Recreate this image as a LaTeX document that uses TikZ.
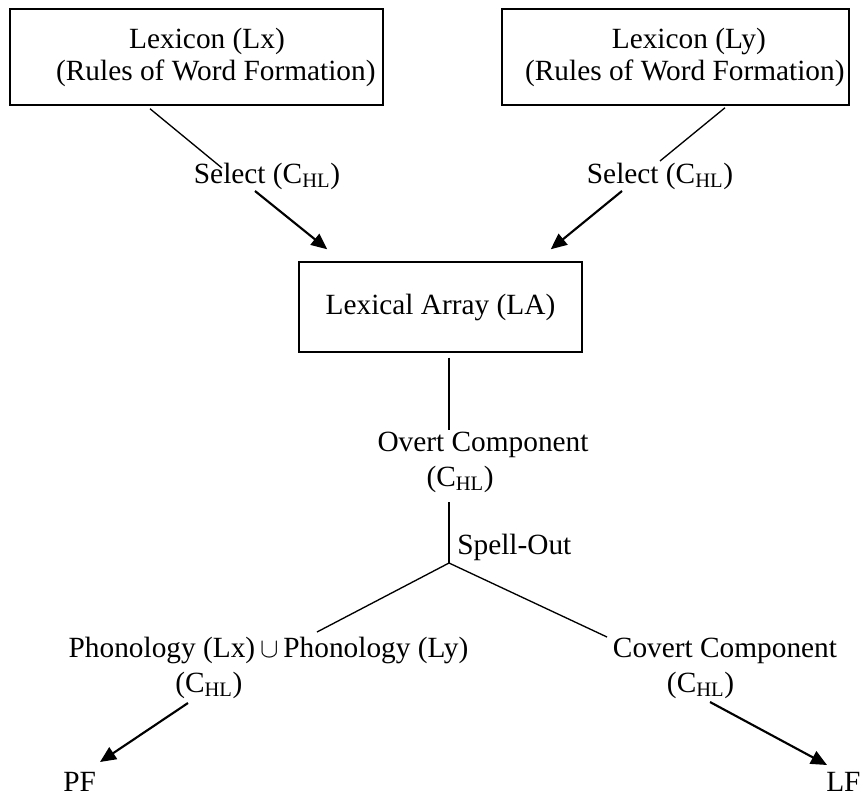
\documentclass[tikz,border=0pt]{standalone}
\usepackage{fontspec}
\setmainfont{Liberation Serif}
\usetikzlibrary{arrows.meta,calc}

\newcommand{\chl}{(C\textsubscript{HL})}

\tikzset{
  lexbox/.style={draw, line width=1.1pt, inner sep=0pt, align=center},
  lbl/.style={inner sep=0pt, align=left},
  link/.style={line width=1pt},
  flow/.style={line width=1.6pt, -{Triangle[length=12pt,width=10.5pt]}},
}

\begin{document}
\begin{tikzpicture}[x=0.75pt,y=0.75pt,yscale=-1,xscale=1,font=\fontsize{22}{24}\selectfont]
\useasboundingbox (0,0) rectangle (862,796);

% lexicons
\node[lexbox, minimum width=279.75pt, minimum height=72pt] (lx) at (196.5,57)
  {\hspace*{15.75pt}Lexicon (Lx)\\ \hspace*{29pt}(Rules of Word Formation)};
\node[lexbox, minimum width=260.25pt, minimum height=72pt] (ly) at (675.5,57)
  {\hspace*{20pt}Lexicon (Ly)\\ \hspace*{14pt}(Rules of Word Formation)};

% select
\node[lbl] (selx) at (267,176) {Select \chl};
\node[lbl] (sely) at (660,176) {Select \chl};

% lexical array
\node[lexbox, minimum width=212.25pt, minimum height=67.5pt] (la) at (440.5,307) {Lexical Array (LA)};

% overt part
\node[lbl] (overt) at (483,462.5) {Overt Component\\[2.25pt]\hspace*{36.75pt}\chl};
\coordinate (split) at (449,563);
\node[lbl, anchor=west] (spell) at (457,547) {Spell-Out};

% phonology and covert part
\node[lbl] (phon) at (268.5,668) {Phonology (Lx)\,$\cup$\,Phonology (Ly)\\[2.25pt]\hspace*{80pt}\chl};
\node[lbl] (cov) at (725,668) {Covert Component\\[2.25pt]\hspace*{40.5pt}\chl};
\node[lbl, anchor=west] (pf) at (63,782) {PF};
\node[lbl, anchor=west] (lf) at (826,782) {LF};

% connectors
\draw[link] ($(lx.south)+(-46.5,3)$) -- ($(selx.center)+(-45,-8)$);
\draw[flow] ($(selx.center)+(-12,15)$) -- ($(la.north west)+(29,-12)$);
\draw[link] ($(ly.south)+(49.5,2)$) -- ($(sely.center)+(0,-15)$);
\draw[flow] ($(sely.center)+(-38,15)$) -- ($(la.north east)+(-32,-12)$);
\draw[link] ($(la.south -| split)+(0,5)$) -- ($(overt.center -| split)+(0,-32.5)$);
\draw[link] ($(overt.center -| split)+(0,39.5)$) -- (split);
\draw[link] (split) -- ($(phon.center)+(48.5,-36)$);
\draw[link] (split) -- ($(cov.center)+(-118,-31)$);
\draw[flow] ($(phon.center)+(-80.5,35)$) -- ($(pf.west)+(37,-20)$);
\draw[flow] ($(cov.center)+(-15,34)$) -- ($(lf.west)+(1,-17)$);

\end{tikzpicture}
\end{document}
